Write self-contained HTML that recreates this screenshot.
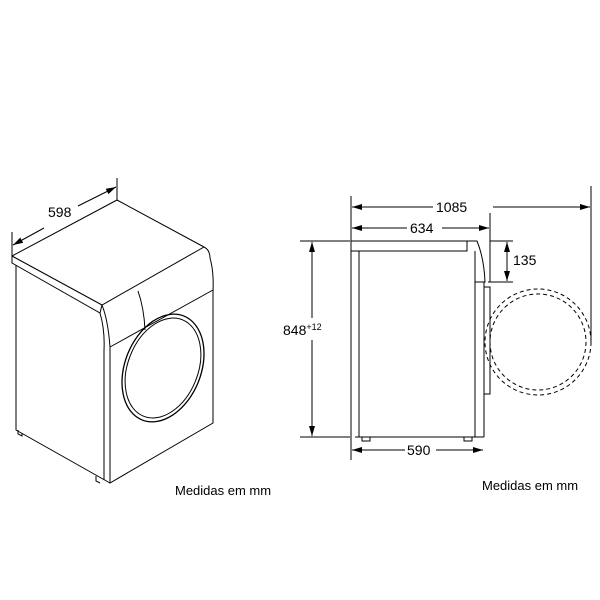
<!DOCTYPE html>
<html><head><style>body{margin:0;background:#fff}svg{display:block}</style></head><body>
<svg width="600" height="600" viewBox="0 0 600 600" xmlns="http://www.w3.org/2000/svg" font-family="Liberation Sans, sans-serif">
<defs><marker id="a" viewBox="0 0 10 6" refX="10" refY="3" markerWidth="10" markerHeight="6" orient="auto-start-reverse" markerUnits="userSpaceOnUse"><path d="M0,0L10,3L0,6z" fill="#000"/></marker></defs>
<g stroke="#000" fill="none" stroke-width="1">
<line x1="12" y1="232" x2="12" y2="256"/><line x1="117" y1="178" x2="117" y2="200"/>
<line x1="13" y1="245" x2="44" y2="228" marker-start="url(#a)"/>
<line x1="78" y1="206" x2="116" y2="187" marker-end="url(#a)"/>
<path d="M12,256 L117,200 L204,247 Q210,250 210,258"/>
<path d="M12,256 L102,305 L204,247"/>
<path d="M12,256 L12,263 L100,313 L102,305"/>
<path d="M16,265 L16,430 L110,483"/>
<path d="M102,305 Q108,320 110,347 L110,483 L213,423 L213,292"/>
<path d="M110,347 L213,290"/>
<path d="M210,258 Q214,272 213,292"/>
<path d="M138,291 Q144,308 145,330"/>
<path d="M100,313 Q105,330 104,350 L104,480"/>
<ellipse cx="163" cy="368" rx="38" ry="56" transform="rotate(22 163 368)" stroke-width="1.3"/>
<ellipse cx="163" cy="368" rx="35" ry="52" transform="rotate(22 163 368)"/>
<path d="M18,430 l0,4 l4,2 l0,-3 M96,476 l0,5 l4,2"/>
<line x1="351" y1="196" x2="351" y2="460"/>
<line x1="591" y1="186" x2="591" y2="340"/>
<line x1="352" y1="207" x2="433" y2="207" marker-start="url(#a)"/>
<line x1="493" y1="207" x2="590" y2="207" marker-end="url(#a)"/>
<line x1="352" y1="228" x2="407" y2="228" marker-start="url(#a)"/>
<line x1="442" y1="228" x2="489" y2="228" marker-end="url(#a)"/>
<line x1="490" y1="213" x2="490" y2="282"/>
<rect x="351" y="241" width="116" height="10"/>
<path d="M467,241 L477,241 Q484,258 485,282 L475,282"/>
<line x1="475" y1="251" x2="475" y2="437"/>
<line x1="359" y1="251" x2="359" y2="437"/>
<line x1="355" y1="437" x2="484" y2="437"/>
<line x1="484" y1="282" x2="484" y2="437"/>
<rect x="484" y="287" width="6" height="107"/>
<path d="M362,437 h8 v4 h-8z M464,437 h8 v4 h-8z"/>
<line x1="300" y1="241" x2="350" y2="241"/>
<line x1="300" y1="437" x2="350" y2="437"/>
<line x1="312" y1="242" x2="312" y2="318" marker-start="url(#a)"/>
<line x1="312" y1="340" x2="312" y2="436" marker-end="url(#a)"/>
<line x1="490" y1="241" x2="513" y2="241"/>
<line x1="488" y1="282" x2="513" y2="282"/>
<line x1="507" y1="242" x2="507" y2="281" marker-start="url(#a)" marker-end="url(#a)"/>
<line x1="352" y1="450" x2="405" y2="450" marker-start="url(#a)"/>
<line x1="436" y1="450" x2="483" y2="450" marker-end="url(#a)"/>
<circle cx="538" cy="342" r="53" stroke-dasharray="4,3"/>
<circle cx="538" cy="342" r="48" stroke-dasharray="4,3"/>
</g>
<g font-size="14" fill="#000">
<text x="48" y="217">598</text>
<text x="436" y="212">1085</text>
<text x="410" y="233">634</text>
<text x="513" y="265">135</text>
<text x="407" y="455">590</text>
<text x="283" y="335">848<tspan font-size="9" dy="-5">+12</tspan></text>
<text x="175" y="495" font-size="13">Medidas em mm</text>
<text x="482" y="490" font-size="13">Medidas em mm</text>
</g>
</svg>
</body></html>
